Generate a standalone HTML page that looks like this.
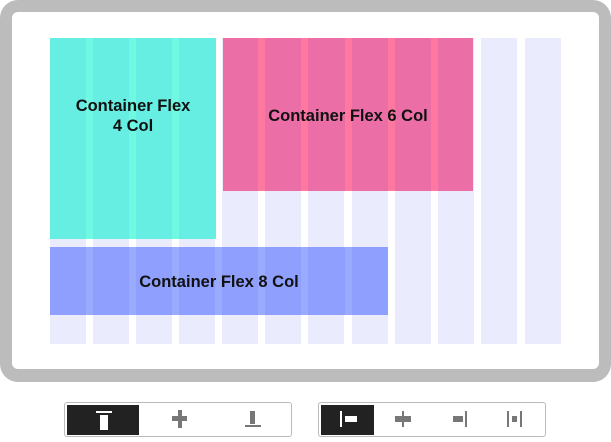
<!DOCTYPE html>
<html><head><style>
*{margin:0;padding:0;box-sizing:border-box}
body{width:611px;height:442px;background:#fff;position:relative;overflow:hidden;font-family:"Liberation Sans",sans-serif}
.a{position:absolute}
.frame{left:0;top:0;width:611px;height:382px;background:#bcbcbc;border-radius:18px}
.inner{left:12px;top:12px;width:587px;height:357px;background:#fff;border-radius:6px}
.col{top:38px;width:36px;height:306px;background:#ebebfe}
.lbl{font-weight:bold;font-size:16.5px;color:#111;text-align:center;line-height:20px}
.tb{border:1px solid #bbb;border-radius:3px;background:#fff;height:35px;top:402px}
.act{background:#222;top:405px;height:30px}
</style></head><body>
<div class="a frame"></div>
<div class="a inner"></div>
<div class="a col" style="left:50px"></div>
<div class="a col" style="left:93px"></div>
<div class="a col" style="left:136px"></div>
<div class="a col" style="left:179px"></div>
<div class="a col" style="left:222px"></div>
<div class="a col" style="left:265px"></div>
<div class="a col" style="left:308px"></div>
<div class="a col" style="left:352px"></div>
<div class="a col" style="left:395px"></div>
<div class="a col" style="left:438px"></div>
<div class="a col" style="left:481px"></div>
<div class="a col" style="left:525px"></div>

<div class="a" style="left:50px;top:38px;width:166px;height:201px;background:#66eee2"></div>
<div class="a" style="left:86px;top:38px;width:7px;height:201px;background:#6ff8e2"></div>
<div class="a" style="left:129px;top:38px;width:7px;height:201px;background:#6ff8e2"></div>
<div class="a" style="left:172px;top:38px;width:7px;height:201px;background:#6ff8e2"></div>
<div class="a lbl" style="left:50px;top:96px;width:166px">Container Flex<br>4 Col</div>

<div class="a" style="left:223px;top:38px;width:250px;height:153px;background:#ec6ea6"></div>
<div class="a" style="left:258px;top:38px;width:7px;height:153px;background:#fe78a0"></div>
<div class="a" style="left:301px;top:38px;width:7px;height:153px;background:#fe78a0"></div>
<div class="a" style="left:345px;top:38px;width:7px;height:153px;background:#fe78a0"></div>
<div class="a" style="left:388px;top:38px;width:7px;height:153px;background:#fe78a0"></div>
<div class="a" style="left:431px;top:38px;width:7px;height:153px;background:#fe78a0"></div>
<div class="a lbl" style="left:223px;top:106px;width:250px">Container Flex 6 Col</div>

<div class="a" style="left:50px;top:247px;width:338px;height:68px;background:#8f9ffd"></div>
<div class="a" style="left:86px;top:247px;width:7px;height:68px;background:#9aabfd"></div>
<div class="a" style="left:129px;top:247px;width:7px;height:68px;background:#9aabfd"></div>
<div class="a" style="left:172px;top:247px;width:7px;height:68px;background:#9aabfd"></div>
<div class="a" style="left:215px;top:247px;width:7px;height:68px;background:#9aabfd"></div>
<div class="a" style="left:258px;top:247px;width:7px;height:68px;background:#9aabfd"></div>
<div class="a" style="left:301px;top:247px;width:7px;height:68px;background:#9aabfd"></div>
<div class="a" style="left:345px;top:247px;width:7px;height:68px;background:#9aabfd"></div>
<div class="a lbl" style="left:50px;top:272px;width:338px">Container Flex 8 Col</div>

<div class="a tb" style="left:64px;width:228px"></div>
<div class="a act" style="left:67px;width:72px"></div>
<svg class="a" style="left:0;top:0" width="611" height="442">
<g fill="#fff">
<rect x="96" y="411" width="16" height="2"/>
<rect x="100" y="415" width="8" height="15"/>
</g>
<g fill="#777">
<rect x="172" y="416" width="15" height="5"/>
<rect x="178" y="410" width="4" height="18"/>
<rect x="250" y="411" width="5" height="13"/>
<rect x="245" y="425" width="16" height="2"/>
</g>
</svg>
<div class="a tb" style="left:318px;width:228px"></div>
<div class="a act" style="left:321px;width:53px"></div>
<svg class="a" style="left:0;top:0" width="611" height="442">
<rect x="340" y="411" width="2" height="16" fill="#fff"/>
<rect x="345" y="416" width="12" height="6" fill="#fff"/>
<g fill="#777">
<rect x="395" y="416" width="16" height="6"/>
<rect x="402" y="411" width="2" height="16"/>
<rect x="453" y="416" width="10" height="6"/>
<rect x="465" y="411" width="2" height="16"/>
<rect x="507" y="411" width="2" height="16"/>
<rect x="512" y="416" width="5" height="6"/>
<rect x="520" y="411" width="2" height="16"/>
</g>
</svg>
</body></html>
